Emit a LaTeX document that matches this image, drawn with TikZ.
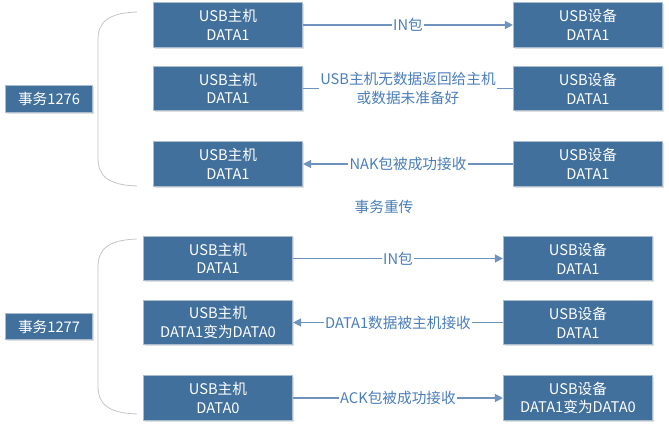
\documentclass[tikz,border=0pt]{standalone}
\usepackage{fontspec}
\setmainfont{Noto Sans CJK SC}
\usepackage{tikz}
\usetikzlibrary{arrows.meta,shadows,positioning}

\definecolor{boxblue}{HTML}{41709C}
\definecolor{boxedge}{HTML}{A9BBCF}
\definecolor{linkblue}{HTML}{6F93BD}
\definecolor{textblue}{HTML}{4A7EBB}
\definecolor{bracegray}{HTML}{C4C4C4}

\begin{document}
\begin{tikzpicture}[
    x=0.75pt, y=-0.75pt,
    block/.style={
        draw=boxedge,
        fill=boxblue,
        line width=0.6pt,
        rectangle,
        minimum width=112pt,
        minimum height=33.5pt,
        inner sep=1pt,
        align=center,
        text=white,
        font=\fontsize{11}{14}\selectfont,
        drop shadow={shadow xshift=1pt, shadow yshift=-1pt, fill=black, opacity=0.12}
    },
    tag/.style={
        block,
        minimum width=65pt,
        minimum height=20pt
    },
    link/.style={
        draw=linkblue,
        line width=1pt
    },
    arrow/.style={
        link,
        -{Triangle[length=6pt, width=6pt]}
    },
    msg/.style={
        fill=white,
        inner sep=1pt,
        align=center,
        text=textblue,
        font=\fontsize{11}{14}\selectfont
    },
    brace/.style={
        draw=bracegray,
        line width=0.6pt
    }
]
\useasboundingbox (0,0) rectangle (669,428);

% Transaction 1276 (y=3..186)
\node[tag]   at (49,99)    (t1276) {事务1276};
\node[block] at (228,25)   (h1a) {USB主机\\DATA1};
\node[block] at (588,25)   (d1a) {USB设备\\DATA1};
\node[block] at (228,88.5) (h1b) {USB主机\\DATA1};
\node[block] at (588,88.5) (d1b) {USB设备\\DATA1};
\node[block] at (228,164)  (h1c) {USB主机\\DATA1};
\node[block] at (588,164)  (d1c) {USB设备\\DATA1};

\draw[arrow] (h1a) -- (d1a) node[midway, msg] {IN包};
\draw[link]  (h1b) -- (d1b) node[midway, msg] {USB主机无数据返回给主机\\或数据未准备好};
\draw[arrow] (d1c) -- (h1c) node[midway, msg] {NAK包被成功接收};

\coordinate (b1top) at (137,12);
\coordinate (b1bot) at (137,186);
\draw[brace] (b1top) .. controls (108,13) and (98,22) .. (98,40)
    -- (98,158) .. controls (98,176) and (108,185) .. (b1bot);

\node[msg] at (384,207) (retry) {事务重传};

% Transaction 1277 (y=236..420)
\node[tag]   at (49,326.5)  (t1277) {事务1277};
\node[block] at (218,258.5) (h2a) {USB主机\\DATA1};
\node[block] at (578,258.5) (d2a) {USB设备\\DATA1};
\node[block] at (218,322.5) (h2b) {USB主机\\DATA1变为DATA0};
\node[block] at (578,322.5) (d2b) {USB设备\\DATA1};
\node[block] at (218,398)   (h2c) {USB主机\\DATA0};
\node[block] at (578,398)   (d2c) {USB设备\\DATA1变为DATA0};

\draw[arrow] (h2a) -- (d2a) node[midway, msg] {IN包};
\draw[arrow] (d2b) -- (h2b) node[midway, msg] {DATA1数据被主机接收};
\draw[arrow] (h2c) -- (d2c) node[midway, msg] {ACK包被成功接收};

\coordinate (b2top) at (137,239);
\coordinate (b2bot) at (137,414);
\draw[brace] (b2top) .. controls (108,240) and (98,249) .. (98,267)
    -- (98,386) .. controls (98,404) and (108,413) .. (b2bot);

\end{tikzpicture}
\end{document}
